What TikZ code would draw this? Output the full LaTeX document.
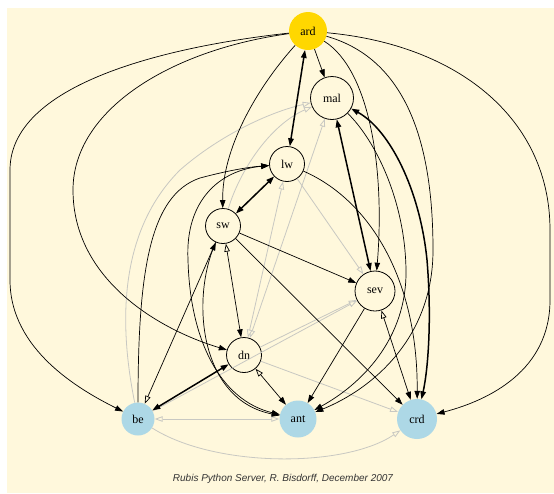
\documentclass[tikz,border=0pt]{standalone}
\usepackage{fontspec}
\setmainfont{Liberation Serif}
\setsansfont{Liberation Sans}
\usetikzlibrary{arrows.meta}
\definecolor{bgc}{HTML}{FFF8DC}
\definecolor{goldc}{HTML}{FFD700}
\definecolor{blc}{HTML}{ADD8E6}
\definecolor{grc}{HTML}{C8C8C2}
\definecolor{capc}{HTML}{333333}
\tikzset{
  ntip/.tip={Triangle[length=8pt,width=5.5pt]},
  etip/.tip={Triangle[length=8pt,width=5.5pt,fill=bgc]},
  nd/.style={circle,draw=black,line width=0.8pt,fill=bgc,inner sep=0pt,font=\fontsize{12}{14}\selectfont},
  topnd/.style={circle,fill=goldc,inner sep=0pt,font=\fontsize{12}{14}\selectfont},
  botnd/.style={circle,fill=blc,inner sep=0pt,font=\fontsize{12}{14}\selectfont},
  blk/.style={draw=black,line width=0.7pt},
  bld/.style={draw=black,line width=1.5pt},
  gry/.style={draw=grc,line width=0.8pt},
}
\begin{document}
\begin{tikzpicture}[x=1pt,y=-1pt]
\useasboundingbox (0,0) rectangle (554,493);
\fill[bgc] (7,8) rectangle (554,493);
% nodes
\node[topnd,minimum size=38pt] (ard) at (308,31) {ard};
\node[nd,minimum size=43pt] (mal) at (332,98) {mal};
\node[nd,minimum size=35pt] (lw) at (287,164) {lw};
\node[nd,minimum size=35pt] (sw) at (223,226) {sw};
\node[nd,minimum size=40pt] (sev) at (375,291) {sev};
\node[nd,minimum size=35pt] (dn) at (244,355) {dn};
\node[botnd,minimum size=33pt] (be) at (138,419) {be};
\node[botnd,minimum size=37pt] (ant) at (298,419) {ant};
\node[botnd,minimum size=40pt] (crd) at (417,419) {crd};
\node[font=\sffamily\itshape\fontsize{10}{12}\selectfont,text=capc] (cap) at (283,479) {Rubis Python Server, R. Bisdorff, December 2007};
% gray edges
\draw[gry,-{etip}] (be) .. controls (118,320) and (120,230) .. (180,170) .. controls (220,135) and (270,112) .. (mal);
\draw[gry,-{etip}] (sw) .. controls (240,170) and (270,125) .. (mal);
\draw[gry,{etip}-{etip}] (mal) -- (dn);
\draw[gry,{etip}-{etip}] (lw) -- (dn);
\draw[gry,-{etip}] (lw) -- (sev);
\draw[gry,-{etip}] (dn) -- (sev);
\draw[gry,-{etip}] (be) -- (sev);
\draw[gry,-{etip}] (dn) -- (crd);
\draw[gry,{etip}-{etip}] (be) -- (ant);
\draw[gry,-{etip}] (be) .. controls (215,468) and (345,468) .. (crd);
% black edges
\draw[blk,-{ntip}] (ard) .. controls (180,45) and (10,80) .. (10,170) -- (10,280) .. controls (10,350) and (80,390) .. (be);
\draw[blk,-{ntip}] (ard) .. controls (170,50) and (73,110) .. (73,190) .. controls (73,280) and (160,330) .. (dn);
\draw[bld,{ntip}-{ntip}] (ard) -- (lw);
\draw[blk,-{ntip}] (ard) -- (mal);
\draw[blk,-{ntip}] (ard) .. controls (255,90) and (222,150) .. (sw);
\draw[blk,-{ntip}] (ard) .. controls (370,70) and (385,170) .. (sev);
\draw[blk,-{ntip}] (ard) .. controls (410,60) and (433,150) .. (433,250) .. controls (433,340) and (370,390) .. (ant);
\draw[blk,-{ntip}] (ard) .. controls (460,45) and (550,120) .. (550,230) -- (550,300) .. controls (550,370) and (490,400) .. (crd);
\draw[bld,{ntip}-{ntip}] (mal) -- (sev);
\draw[bld,{ntip}-{ntip}] (mal) .. controls (390,130) and (420,190) .. (427,260) .. controls (432,320) and (428,370) .. (crd);
\draw[blk,-{ntip}] (mal) .. controls (375,140) and (405,200) .. (406,270) .. controls (407,340) and (360,385) .. (ant);
\draw[blk,-{ntip}] (lw) .. controls (370,200) and (418,280) .. (crd);
\draw[bld,{ntip}-{ntip}] (lw) -- (sw);
\draw[blk,-{ntip}] (sw) -- (sev);
\draw[blk,-{ntip}] (sw) -- (crd);
\draw[blk,{etip}-{ntip}] (sw) -- (dn);
\draw[blk,{etip}-{ntip}] (be) -- (sw);
\draw[blk,-{ntip}] (sw) .. controls (190,300) and (200,400) .. (ant);
\draw[blk,{ntip}-{ntip}] (lw) .. controls (220,170) and (185,200) .. (188,260) .. controls (190,340) and (220,400) .. (ant);
\draw[blk,-{ntip}] (be) .. controls (138,270) and (150,195) .. (200,178) .. controls (230,170) and (250,167) .. (lw);
\draw[bld,{ntip}-{ntip}] (dn) -- (be);
\draw[blk,{etip}-{ntip}] (dn) -- (ant);
\draw[blk,-{ntip}] (sev) -- (ant);
\draw[blk,{etip}-{ntip}] (sev) -- (crd);
\end{tikzpicture}
\end{document}
